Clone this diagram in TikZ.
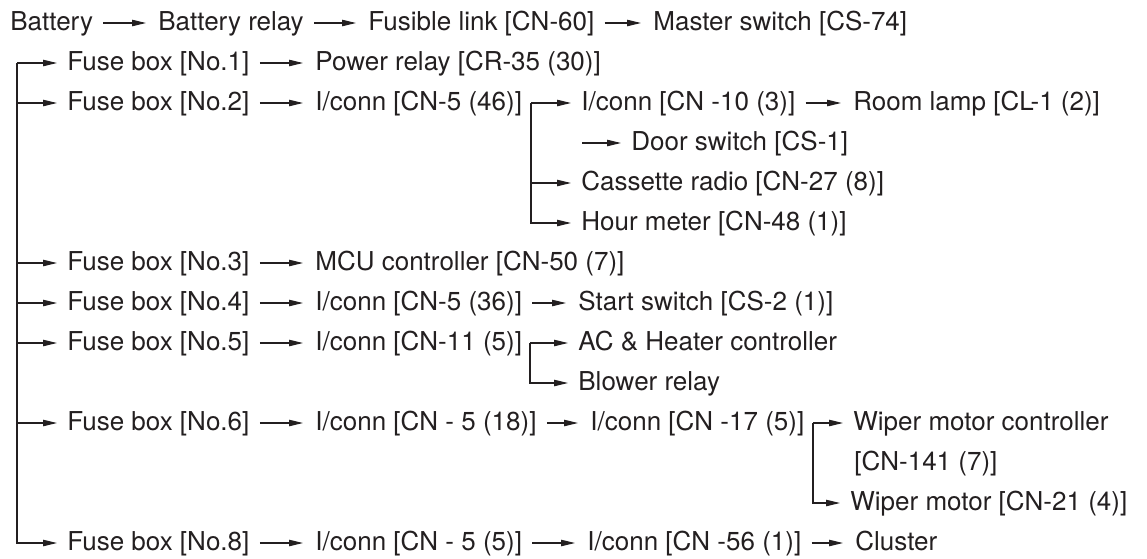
\documentclass[tikz,border=0pt]{standalone}
\usepackage{fontspec}
\setmainfont{TeX Gyre Heros}
\usetikzlibrary{arrows.meta}
\definecolor{ink}{HTML}{231F20}
\begin{document}
\begin{tikzpicture}[
  x=0.5pt, y=-0.5pt,
  part/.style={anchor=west, inner sep=0pt, text height=0.72em, text depth=0pt,
    font=\fontsize{13}{15}\selectfont, text=ink},
  link/.style={line width=0.55pt, draw=ink, -{Triangle[length=7pt,width=3.2pt]},
    shorten <=5pt, shorten >=6pt},
  branch/.style={line width=0.55pt, draw=ink, -{Triangle[length=7pt,width=3.2pt]},
    shorten >=5pt}
]
\useasboundingbox (0,0) rectangle (1147,558);

% Top row: supply
\node[part] (bat) at (10,23) {Battery};
\node[part] (batrel) at (158,23) {Battery relay};
\node[part] (fuslink) at (368,23) {Fusible link [CN-60]};
\node[part] (master) at (653,23) {Master switch [CS-74]};

\draw[link] (bat) -- (batrel);
\draw[link] (batrel) -- (fuslink);
\draw[link] (fuslink) -- (master);

% Fuse box column
\node[part] (fb1) at (67,63) {Fuse box [No.1]};
\node[part] (fb2) at (67,103) {Fuse box [No.2]};
\node[part] (fb3) at (67,263) {Fuse box [No.3]};
\node[part] (fb4) at (67,303) {Fuse box [No.4]};
\node[part] (fb5) at (67,343) {Fuse box [No.5]};
\node[part] (fb6) at (67,423) {Fuse box [No.6]};
\node[part] (fb8) at (67,543) {Fuse box [No.8]};

\coordinate (trunk) at (17,63);
\draw[branch] (trunk) -- (fb1);
\foreach \f in {fb2,fb3,fb4,fb5,fb6,fb8}
  \draw[branch] (trunk) |- (\f);

% No.1
\node[part] (pwr) at (315,63) {Power relay [CR-35 (30)]};
\draw[link] (fb1) -- (pwr);

% No.2
\node[part] (ic46) at (315,103) {I/conn [CN-5 (46)]};
\node[part] (ic10) at (581,103) {I/conn [CN -10 (3)]};
\node[part] (lamp) at (853,103) {Room lamp [CL-1 (2)]};
\node[part] (door) at (631,143) {Door switch [CS-1]};
\node[part] (radio) at (581,183) {Cassette radio [CN-27 (8)]};
\node[part] (hour) at (581,223) {Hour meter [CN-48 (1)]};

\coordinate (j46) at (531,103);
\coordinate (jdoor) at (582,143);
\draw[link] (fb2) -- (ic46);
\draw[branch] (j46) -- (ic10);
\draw[link] (ic10) -- (lamp);
\draw[branch] (jdoor) -- (door);
\draw[branch] (j46) |- (radio);
\draw[branch] (j46) |- (hour);

% No.3
\node[part] (mcu) at (315,263) {MCU controller [CN-50 (7)]};
\draw[link] (fb3) -- (mcu);

% No.4
\node[part] (ic36) at (315,303) {I/conn [CN-5 (36)]};
\node[part] (start) at (578,303) {Start switch [CS-2 (1)]};
\draw[link] (fb4) -- (ic36);
\draw[link] (ic36) -- (start);

% No.5
\node[part] (ic11) at (315,343) {I/conn [CN-11 (5)]};
\node[part] (ac) at (578,343) {AC \& Heater controller};
\node[part] (blower) at (578,383) {Blower relay};

\coordinate (j11) at (530,343);
\draw[link] (fb5) -- (ic11);
\draw[branch] (j11) -- (ac);
\draw[branch] (j11) |- (blower);

% No.6
\node[part] (ic18) at (315,423) {I/conn [CN - 5 (18)]};
\node[part] (ic17) at (590,423) {I/conn [CN -17 (5)]};
\node[part] (wmc) at (853,423) {Wiper motor controller};
\node[part] (wmcb) at (854,463) {[CN-141 (7)]};
\node[part] (wm) at (850,503) {Wiper motor [CN-21 (4)]};

\coordinate (j17) at (813,423);
\draw[link] (fb6) -- (ic18);
\draw[link] (ic18) -- (ic17);
\draw[branch] (j17) -- (wmc);
\draw[branch] (j17) |- (wm);

% No.8
\node[part] (ic5) at (315,543) {I/conn [CN - 5 (5)]};
\node[part] (ic56) at (587,543) {I/conn [CN -56 (1)]};
\node[part] (cluster) at (855,543) {Cluster};

\draw[link] (fb8) -- (ic5);
\draw[link] (ic5) -- (ic56);
\draw[link] (ic56) -- (cluster);
\end{tikzpicture}
\end{document}
